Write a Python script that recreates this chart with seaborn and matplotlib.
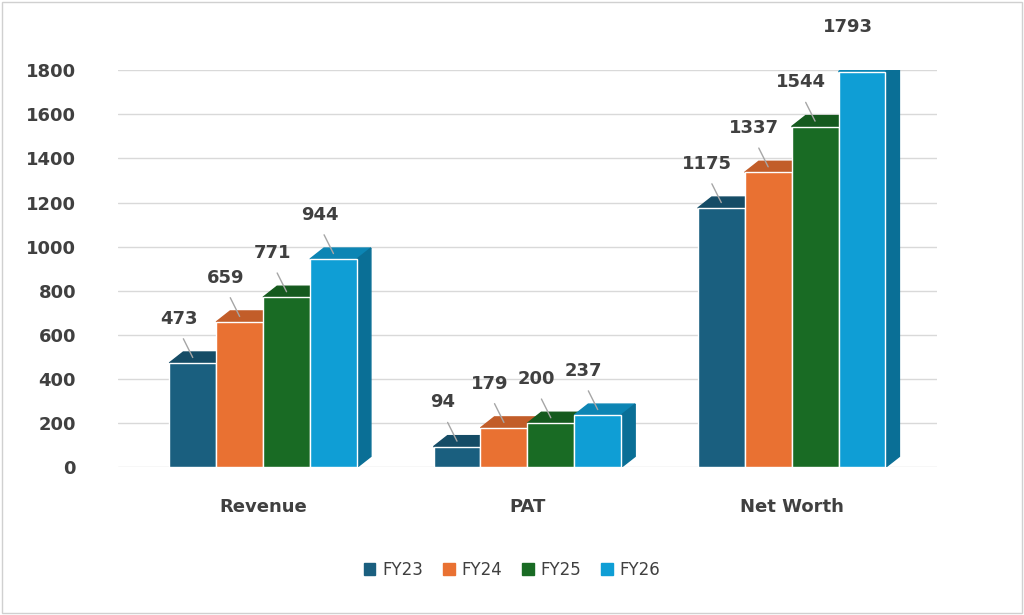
import matplotlib
matplotlib.use("Agg")
import matplotlib.pyplot as plt
import seaborn as sns
import pandas as pd
import numpy as np
from matplotlib.patches import Polygon, Rectangle

categories = ["Revenue", "PAT", "Net Worth"]
years = ["FY23", "FY24", "FY25", "FY26"]
fy23 = [473, 94, 1175]
fy24 = [659, 179, 1337]
fy25 = [771, 200, 1544]
fy26 = [944, 237, 1793]
colors = ["#1a5f7f", "#e97132", "#196b24", "#0f9ed5"]
side_colors = ["#114257", "#a44f22", "#114a19", "#0a6f96"]
top_colors = ["#154c66", "#c25d29", "#155a1e", "#0c85b4"]

df = pd.DataFrame({"Category": categories * 4,
                   "Year": sum([[y] * 3 for y in years], []),
                   "Value": fy23 + fy24 + fy25 + fy26})

sns.set_theme(style="white")
plt.rcParams['font.family'] = ['DejaVu Sans']
fig = plt.figure(figsize=(10.24, 6.15), dpi=100)
ax = fig.add_axes([0.115, 0.24, 0.80, 0.646])
sns.barplot(data=df, x="Category", y="Value", hue="Year", palette=colors,
            width=0.71, ax=ax, saturation=1, legend=False)
ax.set_ylim(0, 1800)
ax.set_xlim(-0.55, 2.55)
ax.set_yticks(range(0, 1801, 200))
ax.yaxis.grid(True, color="#d9d9d9", lw=1)
ax.set_axisbelow(True)
for s in ax.spines.values():
    s.set_visible(False)
ax.set_xlabel(""); ax.set_ylabel("")
ax.tick_params(axis="both", length=0, labelsize=13, labelcolor="#404040")
for t in ax.get_xticklabels() + ax.get_yticklabels():
    t.set_fontweight("bold")
ax.tick_params(axis="x", pad=22)
ax.tick_params(axis="y", pad=30)

fig.canvas.draw()
pw = ax.get_window_extent().width
ph = ax.get_window_extent().height
dx = 14 * 3.1 / pw
dy = 11 * 1800 / ph

bars = [p for p in ax.patches if isinstance(p, Rectangle)]
for i, p in enumerate(bars):
    yi = i // 3
    x, w, h = p.get_x(), p.get_width(), p.get_height()
    ax.add_patch(Polygon([(x, h), (x + w, h), (x + w + dx, h + dy), (x + dx, h + dy)],
                         closed=True, color=top_colors[yi], zorder=3))
    ax.add_patch(Polygon([(x + w, 0), (x + w + dx, dy), (x + w + dx, h + dy), (x + w, h)],
                         closed=True, color=side_colors[yi], zorder=3))
    p.set_zorder(4)
    lx, ly = x + w * 0.2, h + dy + 110
    ax.plot([x + w * 0.5, lx + w * 0.1], [h + dy * 0.5, ly - 50], color="#a6a6a6", lw=1, zorder=5)
    ax.text(lx, ly, f"{int(h)}", ha="center", va="bottom", fontsize=13,
            fontweight="bold", color="#404040", zorder=6, clip_on=False)

handles = [Rectangle((0, 0), 1, 1, color=c) for c in colors]
fig.legend(handles, years, loc="center", bbox_to_anchor=(0.5, 0.073), ncol=4,
           frameon=False, fontsize=12, handlelength=0.7, handleheight=0.7,
           columnspacing=1.2, handletextpad=0.4, labelcolor="#404040")
fig.patches.append(Rectangle((0.002, 0.003), 0.996, 0.994, transform=fig.transFigure,
                             fill=False, edgecolor="#d0d0d0", lw=1))
fig.savefig("out.png", dpi=100)
